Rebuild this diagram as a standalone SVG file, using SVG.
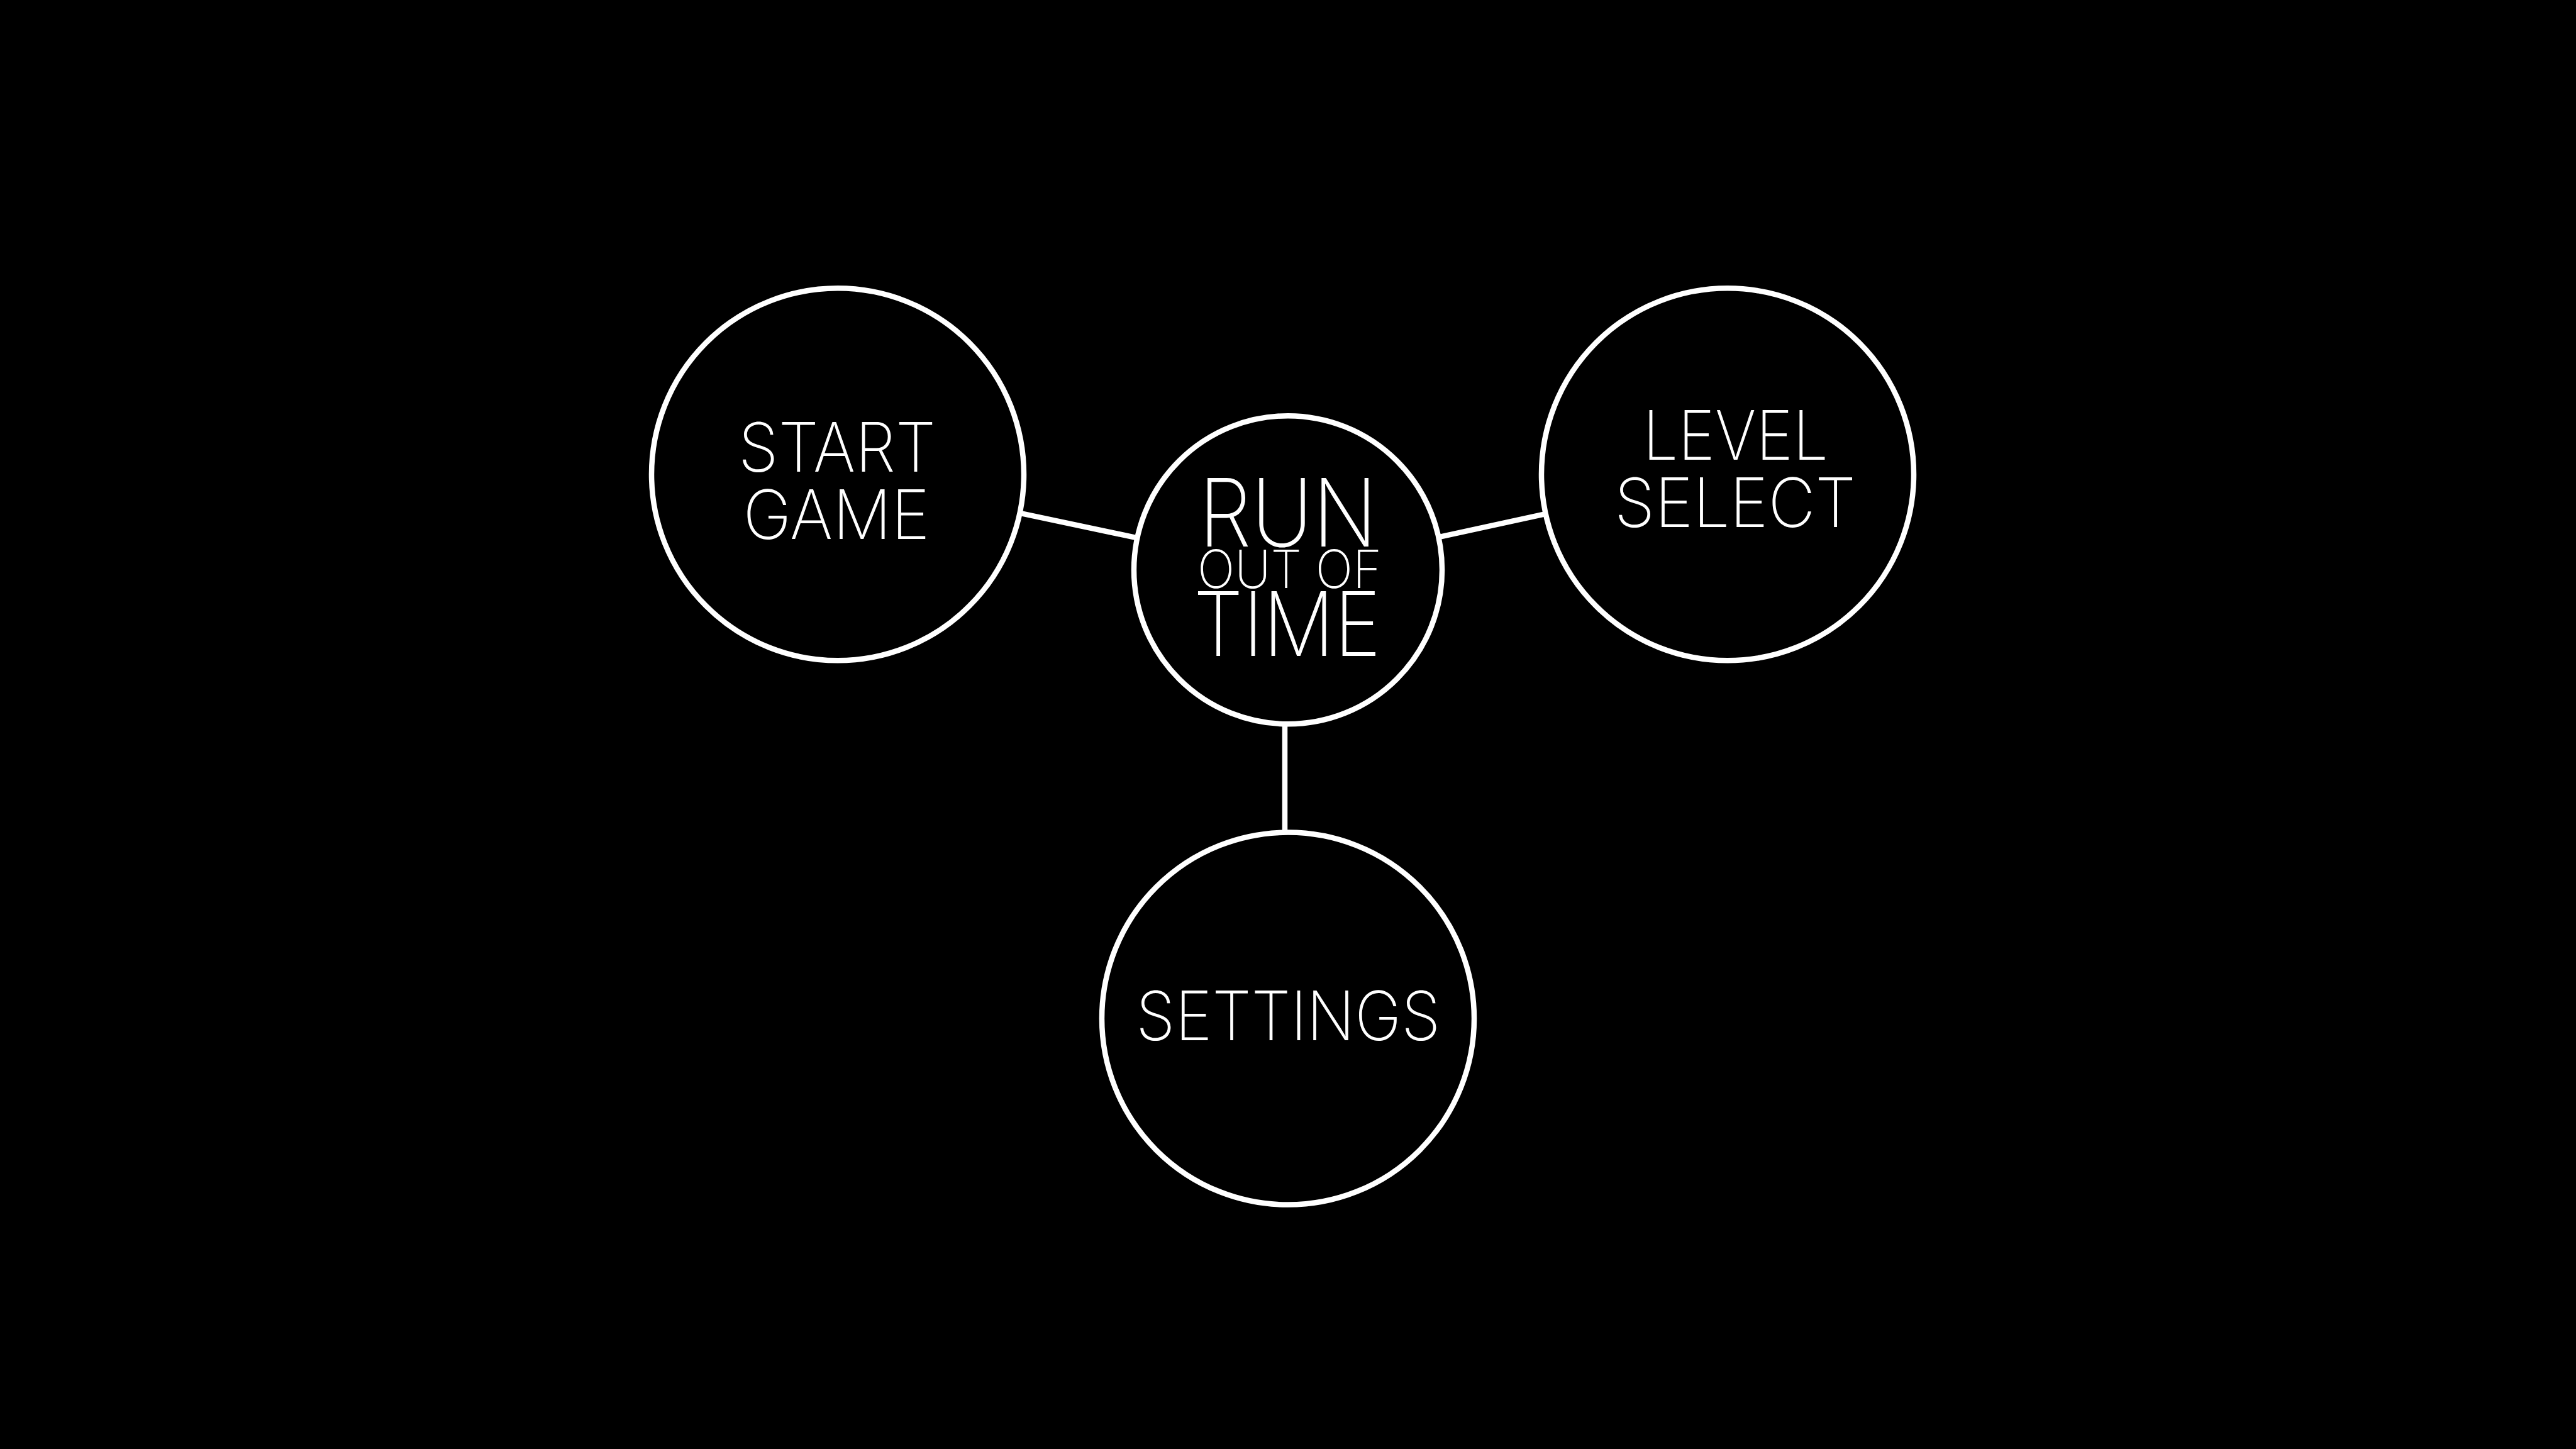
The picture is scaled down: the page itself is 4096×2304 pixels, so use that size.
<svg xmlns="http://www.w3.org/2000/svg" width="4096" height="2304" viewBox="0 0 4096 2304">
<style>
.node{fill:#000;stroke:#fff;stroke-width:8.5}
.edge{stroke:#fff;stroke-width:8.5;fill:none}
.lbl{fill:#fff;font-family:Inter,"Liberation Sans",sans-serif;font-weight:200;text-anchor:middle}
.m{font-size:108px}
</style>
<rect width="4096" height="2304" fill="#000"/>
<g id="connectors">
<line class="edge" x1="1621.7" y1="815.8" x2="1808.5" y2="855.4"/>
<line class="edge" x1="2287.4" y1="854.2" x2="2457.5" y2="817.2"/>
<line class="edge" x1="2043" y1="1151" x2="2043" y2="1324"/>
</g>
<g id="start-game">
<circle class="node" cx="1332" cy="754.3" r="296"/>
<text class="lbl m" x="1331" y="750" textLength="314" lengthAdjust="spacingAndGlyphs">START</text>
<text class="lbl m" x="1330" y="857" textLength="297" lengthAdjust="spacingAndGlyphs">GAME</text>
</g>
<g id="run-out-of-time">
<circle class="node" cx="2048" cy="906.2" r="245"/>
<text class="lbl" x="2048" y="869.4" font-size="150" textLength="284" lengthAdjust="spacingAndGlyphs">RUN</text>
<text class="lbl" x="2050.6" y="935.3" font-size="84" textLength="293" lengthAdjust="spacingAndGlyphs">OUT OF</text>
<text class="lbl" x="2046.7" y="1042.5" font-size="141" textLength="298" lengthAdjust="spacingAndGlyphs">TIME</text>
</g>
<g id="level-select">
<circle class="node" cx="2747" cy="754.3" r="296"/>
<text class="lbl m" x="2759.7" y="731.3" textLength="295" lengthAdjust="spacingAndGlyphs">LEVEL</text>
<text class="lbl m" x="2759" y="838" textLength="384" lengthAdjust="spacingAndGlyphs">SELECT</text>
</g>
<g id="settings">
<circle class="node" cx="2048" cy="1619.6" r="296"/>
<text class="lbl m" x="2048.3" y="1654.4" textLength="484" lengthAdjust="spacingAndGlyphs">SETTINGS</text>
</g>
</svg>
